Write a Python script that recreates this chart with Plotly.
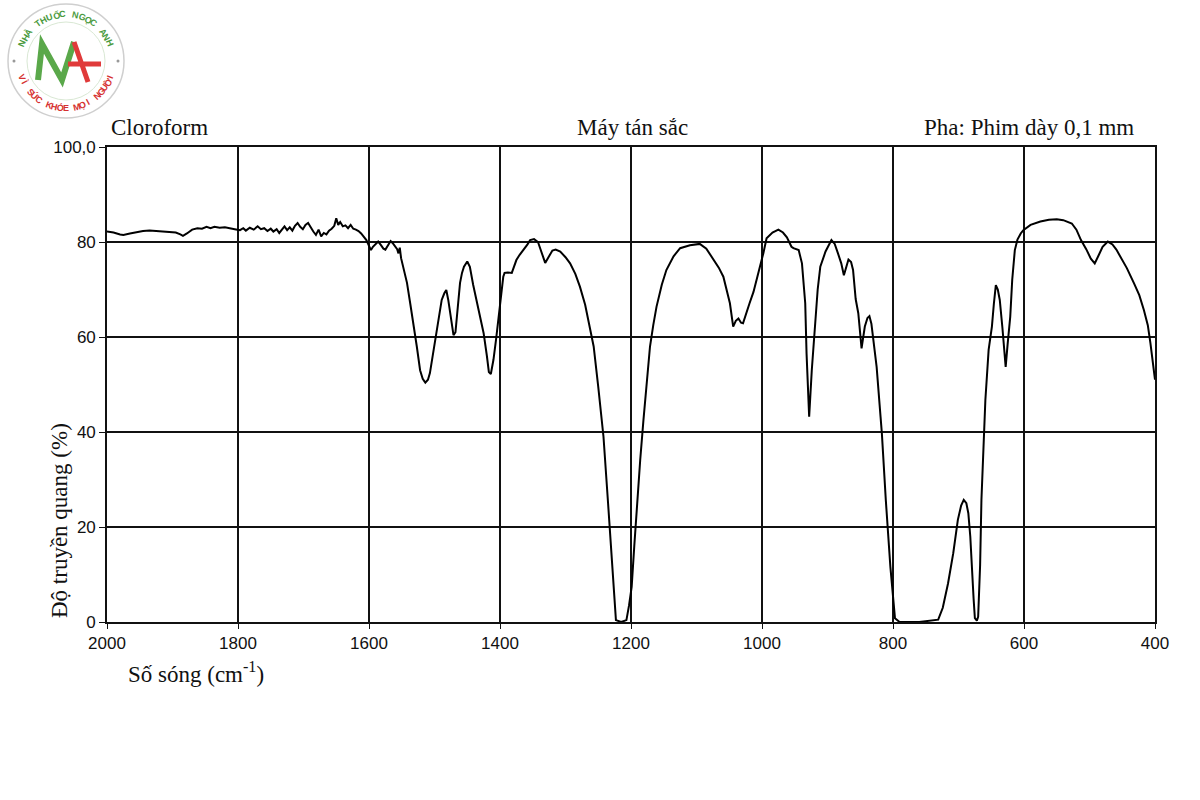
import math
import plotly.graph_objects as go

# ---- data ----
wavenumber = [
 2000,1990,1980,1975,1965,1955,1945,1935,1925,1915,1905,1895,1888,1884,1878,1870,1862,1855,1848,1842,
 1836,1828,1820,1812,1805,1797,1792,1788,1782,1776,1770,1765,1760,1755,1750,1746,1741,1737,1733,1729,
 1725,1721,1717,1713,1709,1705,1701,1697,1693,1689,1685,1681,1677,1673,1669,1665,1661,1657,1653,1650,
 1647,1644,1640,1636,1632,1628,1624,1620,1616,1612,1608,1604,1600,1597,1594,1590,1586,1582,1578,1575,
 1571,1567,1564,1560,1557,1555,1553,1551,1546,1542,1537,1532,1527,1522,1518,1514,1510,1507,1502,1497,
 1493,1489,1485,1482,1479,1475,1471,1468,1465,1461,1458,1455,1450,1446,1441,1436,1431,1425,1420,1417,
 1414,1410,1406,1402,1398,1395,1393,1388,1382,1378,1375,1370,1364,1358,1354,1348,1342,1336,1331,1326,
 1320,1315,1308,1300,1293,1285,1278,1270,1263,1257,1250,1242,1235,1228,1223,1215,1207,1203,1199,1195,
 1191,1186,1181,1176,1171,1166,1161,1153,1146,1135,1125,1110,1095,1085,1074,1066,1059,1053,1049,1044,
 1040,1036,1032,1029,1024,1019,1013,1008,1003,998,993,984,975,968,962,955,952,944,939,934,
 932,928,924,919,915,911,903,894,889,884,879,875,871,868,864,861,857,853,848,845,
 843,839,836,833,830,825,819,817,811,804,797,790,760,731,724,716,708,701,696,692,
 688,685,682,680,677,675,672,670,667,665,662,659,654,649,646,643,640,637,633,630,
 628,625,621,618,614,610,605,601,590,575,562,550,540,527,520,513,505,498,492,486,
 480,472,465,459,453,443,432,424,417,411,407,402,400]
transmittance = [
 82.2,82.0,81.6,81.5,81.8,82.1,82.3,82.4,82.3,82.2,82.2,82.0,81.6,81.3,81.8,82.6,82.9,82.8,83.2,82.9,
 83.2,83.0,83.1,82.8,82.7,82.5,82.9,82.4,83.0,82.6,83.3,82.7,82.9,82.3,82.8,82.2,82.7,81.9,82.6,83.3,
 82.5,83.1,82.4,83.4,84.0,83.2,82.7,83.6,84.0,83.0,82.2,81.5,82.6,81.2,81.9,81.6,82.4,82.8,83.4,85.0,
 83.6,84.2,83.3,83.5,82.9,83.6,82.8,82.6,82.3,81.8,81.2,80.4,79.2,78.3,79.0,79.6,80.1,79.4,78.6,78.4,
 79.2,80.2,79.8,79.0,78.5,77.6,78.8,76.6,74.0,71.4,67.0,62.9,58.0,53.0,51.2,50.4,51.0,52.4,56.5,60.8,
 64.5,67.8,69.2,69.9,67.8,64.0,60.4,61.0,65.5,71.4,73.5,74.8,75.9,74.8,71.0,67.8,64.5,60.8,56.0,52.6,
 52.2,55.2,59.5,64.3,69.0,72.7,73.5,73.6,73.5,75.0,76.2,77.3,78.3,79.5,80.4,80.6,80.0,77.5,75.6,76.8,
 78.2,78.4,78.0,76.8,75.5,73.3,70.6,66.8,62.2,58.0,49.5,39.0,25.0,11.0,0.4,0.0,0.4,3.5,7.4,16.0,
 25.0,34.0,42.5,51.0,58.0,62.5,66.4,71.0,74.1,77.0,78.7,79.3,79.6,78.6,76.2,74.6,72.7,69.5,67.1,62.2,
 63.4,63.9,63.0,62.9,64.8,67.1,69.5,72.0,74.8,77.6,80.8,82.0,82.6,82.0,81.0,79.0,78.7,78.3,75.5,67.1,
 56.6,43.2,53.0,63.6,70.0,74.8,78.0,80.4,79.6,77.6,75.5,73.0,75.0,76.3,75.8,74.1,68.0,65.0,57.6,60.5,
 62.2,64.0,64.4,62.8,59.6,53.7,43.2,39.7,25.7,11.6,0.8,0.0,0.0,0.5,3.0,8.1,14.5,21.5,24.5,25.7,
 25.0,22.9,18.0,11.6,5.0,0.8,0.3,1.1,12.0,25.7,36.0,46.7,57.3,62.2,67.0,70.9,70.0,67.8,62.0,56.5,
 53.7,58.5,64.3,72.0,78.3,80.5,81.8,82.5,83.6,84.3,84.7,84.8,84.6,83.9,82.6,80.4,78.5,76.5,75.5,77.2,
 79.0,80.1,79.5,78.4,76.9,74.5,71.3,68.8,65.7,62.5,58.7,52.4,51.0]

x_ticks = [2000, 1800, 1600, 1400, 1200, 1000, 800, 600, 400]
x_tick_labels = ["2000", "1800", "1600", "1400", "1200", "1000", "800", "600", "400"]
y_ticks = [0, 20, 40, 60, 80, 100]
y_tick_labels = ["0", "20", "40", "60", "80", "100,0"]

logo_top_text = "NHÀ THUỐC NGỌC ANH"
logo_bottom_text = "VÌ SỨC KHỎE MỌI NGƯỜI"

# ---- layout geometry ----
L, R, T, B = 107, 45, 147, 178
W, H = 1200, 800
PW, PH = W - L - R, H - T - B

def px(x):
    return (x - L) / PW

def py(y):
    return (H - B - y) / PH

fig = go.Figure()
fig.add_trace(go.Scatter(x=wavenumber, y=transmittance, mode="lines",
                         line=dict(color="black", width=2), hoverinfo="skip",
                         showlegend=False))

tick_font = dict(family="Liberation Sans, Arial", size=17, color="#111")
fig.update_layout(
    width=W, height=H,
    margin=dict(l=L, r=R, t=T, b=B),
    paper_bgcolor="white", plot_bgcolor="white",
    xaxis=dict(range=[2000, 400], tickvals=x_ticks, ticktext=x_tick_labels,
               showgrid=True, gridcolor="#111", gridwidth=1.6,
               showline=True, linecolor="#111", linewidth=1.6, mirror=True,
               ticks="outside", ticklen=5, tickcolor="#111",
               tickfont=tick_font, zeroline=False),
    yaxis=dict(range=[0, 100], tickvals=y_ticks, ticktext=y_tick_labels,
               showgrid=True, gridcolor="#111", gridwidth=1.6,
               showline=True, linecolor="#111", linewidth=1.6, mirror=True,
               ticks="outside", ticklen=6, tickcolor="#111",
               tickfont=tick_font, zeroline=False),
)

serif = "Liberation Serif, Times New Roman, serif"
ann = [
    dict(text="Cloroform", x=px(109), y=py(128), xanchor="left", yanchor="middle"),
    dict(text="Máy tán sắc", x=px(632), y=py(128), xanchor="center", yanchor="middle"),
    dict(text="Pha: Phim dày 0,1 mm", x=px(1136), y=py(128), xanchor="right", yanchor="middle"),
    dict(text="Số sóng (cm<sup>-1</sup>)", x=px(126), y=py(672), xanchor="left", yanchor="middle"),
    dict(text="Độ truyền quang (%)", x=px(59), y=py(521), xanchor="center", yanchor="middle",
         textangle=-90),
]
for a in ann:
    fig.add_annotation(xref="paper", yref="paper", showarrow=False,
                       font=dict(family=serif, size=23, color="#111"), **a)

# ---- logo (watermark) ----
cx, cy = 66, 61
fig.add_shape(type="circle", xref="paper", yref="paper",
              x0=px(cx - 58), x1=px(cx + 58), y0=py(cy + 57), y1=py(cy - 57),
              line=dict(color="#cfcfcf", width=1.5))
fig.add_shape(type="circle", xref="paper", yref="paper",
              x0=px(cx - 39), x1=px(cx + 39), y0=py(cy + 39), y1=py(cy - 39),
              line=dict(color="#d9e8d4", width=1))
fig.add_shape(type="path", xref="paper", yref="paper",
              path=f"M {px(38)},{py(80)} L {px(42)},{py(44)} L {px(62)},{py(80)} L {px(74)},{py(42)}",
              line=dict(color="#5aa84a", width=6))
fig.add_shape(type="path", xref="paper", yref="paper",
              path=f"M {px(74)},{py(42)} L {px(88)},{py(82)} M {px(68)},{py(64)} L {px(101)},{py(64)}",
              line=dict(color="#e03a3a", width=5))

r_txt = 47
logo_font = "Liberation Sans, Arial"
n = len(logo_top_text)
span = 136.0
for i, ch in enumerate(logo_top_text):
    if ch == " ":
        continue
    th = -span / 2 + span * i / (n - 1)
    t = math.radians(th)
    fig.add_annotation(xref="paper", yref="paper", showarrow=False, text=f"<b>{ch}</b>",
                       x=px(cx + r_txt * math.sin(t)), y=py(cy - r_txt * math.cos(t)),
                       textangle=th, xanchor="center", yanchor="middle",
                       font=dict(family=logo_font, size=9, color="#4a9a3e"))
n = len(logo_bottom_text)
span = 140.0
for i, ch in enumerate(logo_bottom_text):
    if ch == " ":
        continue
    al = -span / 2 + span * i / (n - 1)
    t = math.radians(al)
    fig.add_annotation(xref="paper", yref="paper", showarrow=False, text=f"<b>{ch}</b>",
                       x=px(cx + r_txt * math.sin(t)), y=py(cy + r_txt * math.cos(t)),
                       textangle=-al, xanchor="center", yanchor="middle",
                       font=dict(family=logo_font, size=9, color="#d63030"))
for dx in (-52, 52):
    fig.add_shape(type="circle", xref="paper", yref="paper",
                  x0=px(cx + dx - 1.5), x1=px(cx + dx + 1.5), y0=py(cy + 1.5), y1=py(cy - 1.5),
                  line=dict(width=0), fillcolor="#999")

fig.write_html("out.html")
